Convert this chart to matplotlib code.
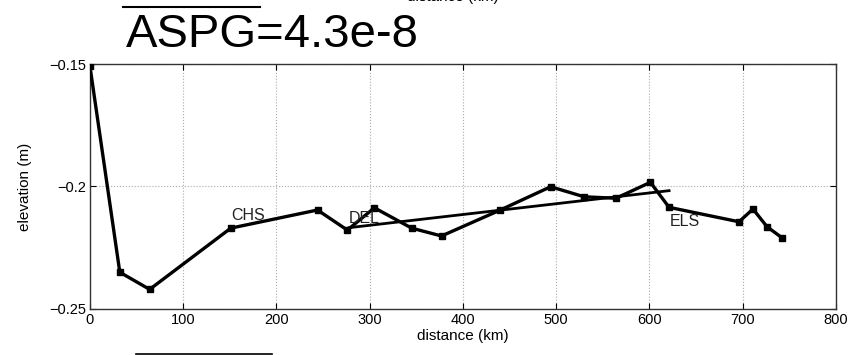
import numpy as np
import matplotlib.pyplot as plt
from matplotlib.lines import Line2D

plt.rcParams['font.family'] = ['Liberation Sans', 'DejaVu Sans']

# station profile (distance in km, elevation in m)
dist = [0, 32, 64, 151, 244, 276, 305, 345, 377, 440, 494, 530, 564, 601, 621, 696, 711, 726, 742]
elev = [-0.151, -0.235, -0.242, -0.217, -0.2096, -0.2178, -0.2087, -0.217, -0.2202, -0.2096,
        -0.2001, -0.2042, -0.2048, -0.1983, -0.2085, -0.2144, -0.2092, -0.2164, -0.2209]

# fitted trend
fit_x = [278, 621]
fit_y = [-0.2168, -0.2017]

# station labels
lab_names = ['CHS', 'DEL', 'ELS']
lab_x = [152, 277, 622]
lab_y = [-0.2148, -0.2162, -0.2172]

xticks = [0, 100, 200, 300, 400, 500, 600, 700, 800]
yticks = [-0.25, -0.2, -0.15]
ytick_labels = ['\u22120.25', '\u22120.2', '\u22120.15']

fig = plt.figure(figsize=(8.52, 3.55), dpi=100)
ax = fig.add_axes([0.1056, 0.1296, 0.8756, 0.6901])

ax.plot(dist, elev, color='black', lw=2.4, marker='s', ms=4.5, zorder=3)
ax.plot(fit_x, fit_y, color='black', lw=2.0, zorder=3)
for n, x, y in zip(lab_names, lab_x, lab_y):
    ax.text(x, y, n, fontsize=11.5, color='#222222', ha='left', va='bottom', zorder=4)

ax.set_xlim(0, 800)
ax.set_ylim(-0.25, -0.15)
ax.set_xticks(xticks)
ax.set_yticks(yticks)
ax.set_yticklabels(ytick_labels)
ax.tick_params(direction='in', top=True, right=True, labelsize=10.5, length=4, pad=3)
ax.grid(True, linestyle=':', color='#aaaaaa', lw=0.8)
ax.set_xlabel('distance (km)', fontsize=11, labelpad=1)
ax.set_ylabel('elevation (m)', fontsize=11, labelpad=12)
for s in ax.spines.values():
    s.set_linewidth(1.0)
    s.set_color('#333333')

# title with overline on ASPG
fig.text(0.148, 0.84, 'ASPG=4.3e-8', fontsize=34, ha='left', va='bottom')
fig.add_artist(Line2D([123 / 852, 260 / 852], [1 - 7 / 355, 1 - 7 / 355], color='black', lw=1.5))

# remnants of neighbouring panels (cropped)
fig.text(453 / 852, 1 - 4 / 355, 'distance (km)', fontsize=11, ha='center', va='bottom')
fig.add_artist(Line2D([136 / 852, 272 / 852], [1 - 353.5 / 355, 1 - 353.5 / 355], color='black', lw=1.2))

fig.savefig('out.png', dpi=100)
